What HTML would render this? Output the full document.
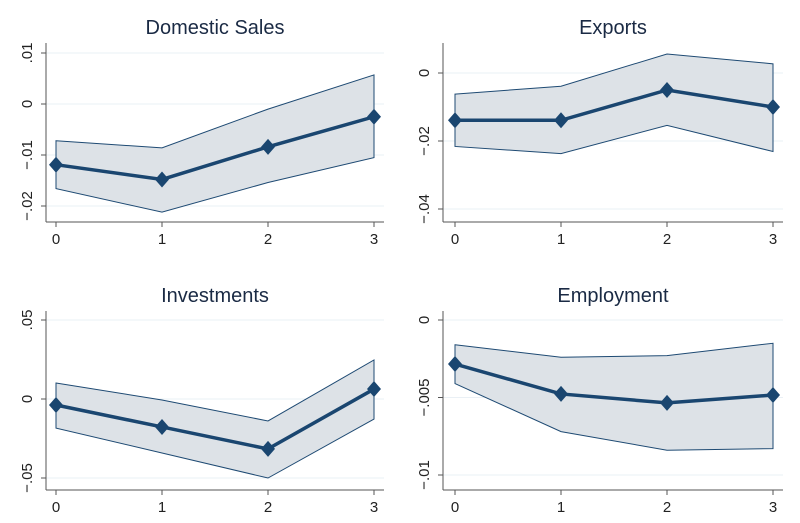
<!DOCTYPE html>
<html><head><meta charset="utf-8"><style>
body{margin:0;background:#fff}
svg{display:block;font-family:"Liberation Sans",sans-serif}
</style></head><body>
<svg id="c" width="800" height="523" viewBox="0 0 800 523"></svg>
<script>
const xCats=[0,1,2,3];
const titles=["Domestic Sales","Exports","Investments","Employment"];
const estDomestic=[-0.0119,-0.0148,-0.0084,-0.0025];
const upDomestic=[-0.0072,-0.0086,-0.0010,0.0057];
const loDomestic=[-0.0166,-0.0212,-0.0154,-0.0105];
const estExports=[-0.0139,-0.0139,-0.0050,-0.0100];
const upExports=[-0.0062,-0.0039,0.0056,0.0027];
const loExports=[-0.0216,-0.0237,-0.0154,-0.0231];
const estInvest=[-0.0038,-0.0177,-0.0316,0.0063];
const upInvest=[0.0101,-0.0006,-0.0139,0.0247];
const loInvest=[-0.0184,-0.0342,-0.0500,-0.0127];
const estEmploy=[-0.00284,-0.00477,-0.00535,-0.00484];
const upEmploy=[-0.0016,-0.0024,-0.0023,-0.0015];
const loEmploy=[-0.0041,-0.0072,-0.0084,-0.0083];
const ticks1=[0.01,0,-0.01,-0.02], tl1=[".01","0","-.01","-.02"];
const ticks2=[0,-0.02,-0.04], tl2=["0","-.02","-.04"];
const ticks3=[0.05,0,-0.05], tl3=[".05","0","-.05"];
const ticks4=[0,-0.005,-0.01], tl4=["0","-.005","-.01"];

const NS="http://www.w3.org/2000/svg", svg=document.getElementById('c');
function mk(t,a,p){const e=document.createElementNS(NS,t);for(const k in a)e.setAttribute(k,a[k]);(p||svg).appendChild(e);return e;}
function panel(i,cfg,est,up,lo,ticks,tl){
  const g=mk('g',{});
  
  
  const xs=v=>cfg.x0+(cfg.x3-cfg.x0)*v/3;
  const ys=v=>cfg.ya+(cfg.yb-cfg.ya)*(v-cfg.va)/(cfg.vb-cfg.va);
  const t=mk('text',{x:(cfg.ax+cfg.x3+10)/2,y:cfg.top-9,'text-anchor':'middle','font-size':20,fill:'#1a2a44'},g);
  t.textContent=titles[i];
  
  ticks.forEach((v,j)=>{
    const y=ys(v);
    const gl=mk('line',{x1:cfg.ax,x2:cfg.x3+10,y1:y,y2:y,stroke:'#eaf0f5','stroke-width':1},g);
    
    mk('line',{x1:cfg.ax-5,x2:cfg.ax,y1:y,y2:y,stroke:'#555'},g);
    const tx=mk('text',{x:0,y:0,transform:`translate(${cfg.ax-14},${y}) rotate(-90)`,'text-anchor':'middle','font-size':15,fill:'#222'},g);
    tx.textContent=tl[j].replace('-','\u2212');
    
  });
  xCats.forEach(c=>{
    const x=xs(c);
    mk('line',{x1:x,x2:x,y1:cfg.bot,y2:cfg.bot+5,stroke:'#555'},g);
    const tx=mk('text',{x:x,y:cfg.bot+22,'text-anchor':'middle','font-size':15,fill:'#222'},g);
    tx.textContent=c;
    
  });
  const pts=xCats.map((c,j)=>xs(c)+','+ys(up[j])).join(' ')+' '+xCats.slice().reverse().map(c=>xs(c)+','+ys(lo[c])).join(' ');
  const band=mk('polygon',{points:pts,fill:'#dde2e7',stroke:'#1e4a73','stroke-width':1},g);
  
  const ln=mk('polyline',{points:xCats.map((c,j)=>xs(c)+','+ys(est[j])).join(' '),fill:'none',stroke:'#1a4670','stroke-width':3.5},g);
  
  xCats.forEach((c,j)=>{
    const x=xs(c),y=ys(est[j]);
    const d=mk('polygon',{points:`${x},${y-8} ${x+7},${y} ${x},${y+8} ${x-7},${y}`,fill:'#1a4670'},g);
    
  });
  mk('line',{x1:cfg.ax,x2:cfg.ax,y1:cfg.top,y2:cfg.bot,stroke:'#555'},g);
  mk('line',{x1:cfg.ax,x2:cfg.x3+10,y1:cfg.bot,y2:cfg.bot,stroke:'#555'},g);
}
panel(0,{ax:46,x0:56,x3:374,top:43,bot:222,ya:104,yb:155,va:0,vb:-0.01},estDomestic,upDomestic,loDomestic,ticks1,tl1);
panel(1,{ax:443,x0:455,x3:773,top:43,bot:222,ya:73,yb:141,va:0,vb:-0.02},estExports,upExports,loExports,ticks2,tl2);
panel(2,{ax:46,x0:56,x3:374,top:311,bot:490,ya:399,yb:478,va:0,vb:-0.05},estInvest,upInvest,loInvest,ticks3,tl3);
panel(3,{ax:443,x0:455,x3:773,top:311,bot:490,ya:320,yb:475,va:0,vb:-0.01},estEmploy,upEmploy,loEmploy,ticks4,tl4);
</script>
</body></html>
